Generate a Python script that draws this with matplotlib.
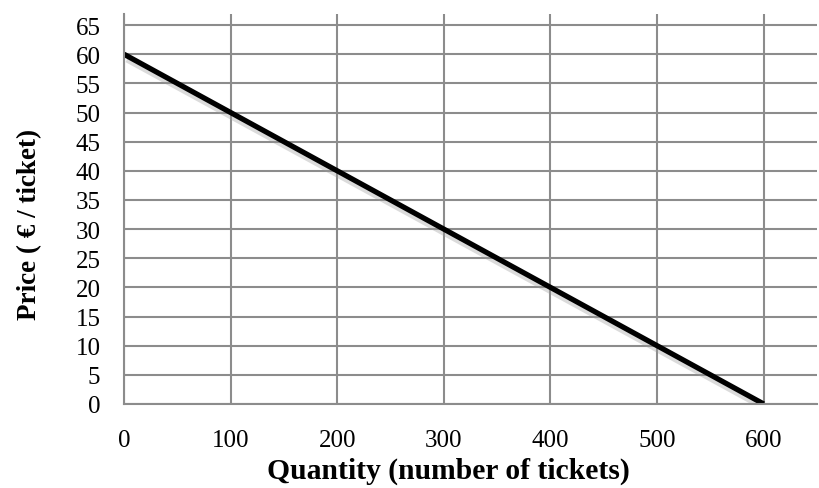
import numpy as np
import matplotlib.pyplot as plt
import matplotlib.patheffects as pe

# demand curve: price vs quantity of tickets
quantity = [0, 600]
price = [60, 0]
x_ticks = [0, 100, 200, 300, 400, 500, 600]
y_ticks = list(range(0, 70, 5))

plt.rcParams['font.family'] = ['Liberation Serif', 'DejaVu Serif']

fig = plt.figure(figsize=(8.19, 4.89), dpi=100)
ax = fig.add_axes([0.1514, 0.1718, 0.8462, 0.7975])

grid_col = '#8c8c8c'
ax.set_xlim(0, 650)
ax.set_ylim(0, 66.9)
ax.set_xticks(x_ticks)
ax.set_yticks(y_ticks)
ax.grid(True, color=grid_col, linewidth=1.5)
ax.set_axisbelow(True)

for side in ['top', 'right']:
    ax.spines[side].set_visible(False)
for side in ['left', 'bottom']:
    ax.spines[side].set_color(grid_col)
    ax.spines[side].set_linewidth(1.5)

ax.tick_params(length=0, labelsize=18)
ax.tick_params(axis='x', pad=18)
ax.tick_params(axis='y', pad=17)

ax.plot(quantity, price, color='black', linewidth=3.8, solid_capstyle='butt',
        path_effects=[pe.SimpleLineShadow(offset=(2, -4), shadow_color='#999999', alpha=0.35),
                      pe.Normal()])

ax.set_xlabel('Quantity (number of tickets)', fontsize=21.3, fontweight='bold')
ax.set_ylabel('Price ( € / ticket)', fontsize=19.5, fontweight='bold')
ax.xaxis.set_label_coords(0.468, -0.135)
ax.yaxis.set_label_coords(-0.118, 0.464)

fig.savefig('out.png', dpi=100)
